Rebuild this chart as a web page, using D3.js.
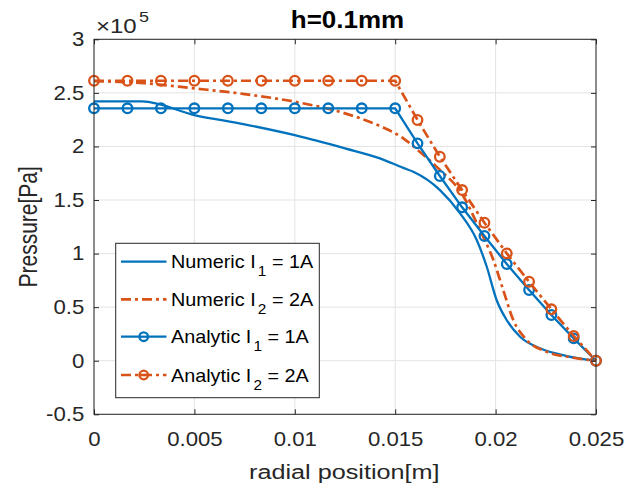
<!DOCTYPE html>
<html><head><meta charset="utf-8">
<script src="https://cdn.jsdelivr.net/npm/d3@7"></script>
<style>body{margin:0;background:#fff}svg{display:block}text{font-family:Arial,"Liberation Sans",Helvetica,sans-serif}</style>
</head><body><svg id="c" width="640" height="488"></svg>
<script>
// ---- data (pressure in units of 1e5 Pa) ----
const numR1 = [0,0.0024,0.005,0.0075,0.01,0.0125,0.01424,0.0154,0.0159,0.01723,0.01823,0.01906,0.01956,0.02005,0.02055,0.02122,0.02221,0.02354,0.025];
const numP1 = [2.42,2.42,2.293,2.206,2.105,1.982,1.889,1.80,1.764,1.593,1.376,1.127,0.877,0.567,0.38,0.224,0.116,0.044,0];
const numR2 = [0,0.0025,0.005,0.0075,0.01,0.0125,0.01424,0.0154,0.01612,0.01723,0.01831,0.01922,0.01989,0.02038,0.02088,0.02155,0.02254,0.02387,0.025];
const numP2 = [2.61,2.59,2.542,2.489,2.417,2.309,2.19,2.076,1.967,1.78,1.562,1.22,0.94,0.66,0.38,0.193,0.084,0.028,0];
const anaR = [0,0.001667,0.003333,0.005,0.006667,0.008333,0.01,0.011667,0.013333,0.015,0.016111,0.017222,0.018333,0.019444,0.020556,0.021667,0.022778,0.023889,0.025];
const anaP1 = [2.356,2.356,2.356,2.356,2.356,2.356,2.356,2.356,2.356,2.356,2.029,1.724,1.432,1.164,0.903,0.660,0.427,0.209,0];
const anaP2 = [2.613,2.613,2.613,2.613,2.613,2.613,2.613,2.613,2.613,2.613,2.247,1.904,1.593,1.288,1.002,0.737,0.480,0.231,0];
const xTicks = [0,0.005,0.01,0.015,0.02,0.025];
const xTickLabels = ["0","0.005","0.01","0.015","0.02","0.025"];
const yTicks = [-0.5,0,0.5,1,1.5,2,2.5,3];
const yTickLabels = ["-0.5","0","0.5","1","1.5","2","2.5","3"];
const legendLabels = [["Numeric I","1"," = 1A"],["Numeric I","2"," = 2A"],["Analytic I","1"," = 1A"],["Analytic I","2"," = 2A"]];

const blue = "#0072BD", orange = "#D95319", axc = "#262626";
const L = 94, R = 596, T = 39.3, B = 414.3;
const svg = d3.select("#c");
const x = d3.scaleLinear().domain([0,0.025]).range([L,R]);
const y = d3.scaleLinear().domain([-0.5,3]).range([B,T]);

// grid
const g = svg.append("g");
g.selectAll(".gx").data(xTicks).join("line").attr("x1",d=>x(d)).attr("x2",d=>x(d)).attr("y1",T).attr("y2",B).attr("stroke","#e3e3e3").attr("stroke-width",1);
g.selectAll(".gy").data(yTicks).join("line").attr("x1",L).attr("x2",R).attr("y1",d=>y(d)).attr("y2",d=>y(d)).attr("stroke","#e3e3e3").attr("stroke-width",1);

// series
const line = d3.line().x(d=>x(d[0])).y(d=>y(d[1]));
const lineS = d3.line().x(d=>x(d[0])).y(d=>y(d[1])).curve(d3.curveMonotoneX);
const dd = "10,4,3,4";
const bw = 2.3, ow = 2.7;
const plot = svg.append("g");
plot.append("path").datum(numR1.map((r,i)=>[r,numP1[i]])).attr("d",lineS).attr("fill","none").attr("stroke",blue).attr("stroke-width",bw);
plot.append("path").datum(numR2.map((r,i)=>[r,numP2[i]])).attr("d",lineS).attr("fill","none").attr("stroke",orange).attr("stroke-width",ow).attr("stroke-dasharray",dd);
const a1 = anaR.map((r,i)=>[r,anaP1[i]]), a2 = anaR.map((r,i)=>[r,anaP2[i]]);
plot.append("path").datum(a1).attr("d",line).attr("fill","none").attr("stroke",blue).attr("stroke-width",bw);
plot.selectAll(".m1").data(a1).join("circle").attr("cx",d=>x(d[0])).attr("cy",d=>y(d[1])).attr("r",4.8).attr("fill","none").attr("stroke",blue).attr("stroke-width",2.3);
plot.append("path").datum(a2).attr("d",line).attr("fill","none").attr("stroke",orange).attr("stroke-width",ow).attr("stroke-dasharray",dd);
plot.selectAll(".m2").data(a2).join("circle").attr("cx",d=>x(d[0])).attr("cy",d=>y(d[1])).attr("r",4.8).attr("fill","none").attr("stroke",orange).attr("stroke-width",2.3);

// axes
const tickF = 20, tickSX = 1.11;
const ax = svg.append("g");
const bx = ax.append("g").attr("transform",`translate(0,${B})`).call(d3.axisBottom(x).tickValues(xTicks).tickFormat((d,i)=>xTickLabels[i]).tickSizeInner(-5).tickSizeOuter(0).tickPadding(17.4));
ax.append("g").attr("transform",`translate(0,${T})`).call(d3.axisTop(x).tickValues(xTicks).tickFormat("").tickSizeInner(-5).tickSizeOuter(0));
const ly = ax.append("g").attr("transform",`translate(${L},0)`).call(d3.axisLeft(y).tickValues(yTicks).tickFormat((d,i)=>yTickLabels[i]).tickSizeInner(-5).tickSizeOuter(0).tickPadding(9.7));
ax.append("g").attr("transform",`translate(${R},0)`).call(d3.axisRight(y).tickValues(yTicks).tickFormat("").tickSizeInner(-5).tickSizeOuter(0));
ax.selectAll(".domain").remove();
ax.selectAll("line").attr("stroke",axc);
ax.selectAll("text").attr("font-size",tickF).attr("fill",axc).attr("font-family","Arial, 'Liberation Sans', sans-serif").attr("transform",`scale(${tickSX},1)`);
ly.selectAll("text").attr("x",-9.7/tickSX);
svg.append("rect").attr("x",L).attr("y",T).attr("width",R-L).attr("height",B-T).attr("fill","none").attr("stroke",axc).attr("stroke-width",1);

// exponent
const ex = svg.append("text").attr("transform","translate(96,33.3) scale(1.2,1)").attr("fill",axc).attr("font-size",20);
ex.append("tspan").text("\u00d710");
ex.append("tspan").attr("font-size",15).attr("dy",-11.5).attr("dx",2).text("5");

// title & labels
svg.append("text").attr("transform",`translate(${347.5},28.3) scale(1.13,1)`).attr("text-anchor","middle").attr("font-weight","bold").attr("font-size",23).attr("fill","#000").text("h=0.1mm");
svg.append("text").attr("transform",`translate(344.3,479.3) scale(1.2,1)`).attr("text-anchor","middle").attr("font-size",21).attr("fill",axc).text("radial position[m]");
svg.append("text").attr("transform",`translate(37,${(T+B)/2}) rotate(-90) scale(1,1.2)`).attr("text-anchor","middle").attr("font-size",21).attr("fill",axc).text("Pressure[Pa]");

// legend
const lg = svg.append("g");
lg.append("rect").attr("x",115.7).attr("y",243.3).attr("width",203.6).attr("height",154.4).attr("fill","#fff").attr("stroke","#262626").attr("stroke-width",1);
const rowsY = [261.7,299.3,336.7,375];
const styles = [{c:blue,dash:null,m:false,w:bw},{c:orange,dash:dd,m:false,w:ow},{c:blue,dash:null,m:true,w:bw},{c:orange,dash:dd,m:true,w:ow}];
rowsY.forEach((ry,i)=>{
  const s = styles[i];
  const l = lg.append("line").attr("x1",121).attr("x2",166.5).attr("y1",ry).attr("y2",ry).attr("stroke",s.c).attr("stroke-width",s.w);
  if(s.dash) l.attr("stroke-dasharray",s.dash);
  if(s.m) lg.append("circle").attr("cx",143.7).attr("cy",ry).attr("r",4.3).attr("fill","#fff").attr("stroke",s.c).attr("stroke-width",2.3);
  if(s.m) lg.append("line").attr("x1",140).attr("x2",147.4).attr("y1",ry).attr("y2",ry).attr("stroke",s.c).attr("stroke-width",s.w);
  const t = lg.append("text").attr("transform",`translate(171,${ry+6.5}) scale(1.1,1)`).attr("font-size",18).attr("fill","#000");
  t.append("tspan").text(legendLabels[i][0]);
  t.append("tspan").attr("font-size",14).attr("dy",8).attr("dx",2).text(legendLabels[i][1]);
  t.append("tspan").attr("dy",-8).text(legendLabels[i][2]);
});
</script></body></html>
